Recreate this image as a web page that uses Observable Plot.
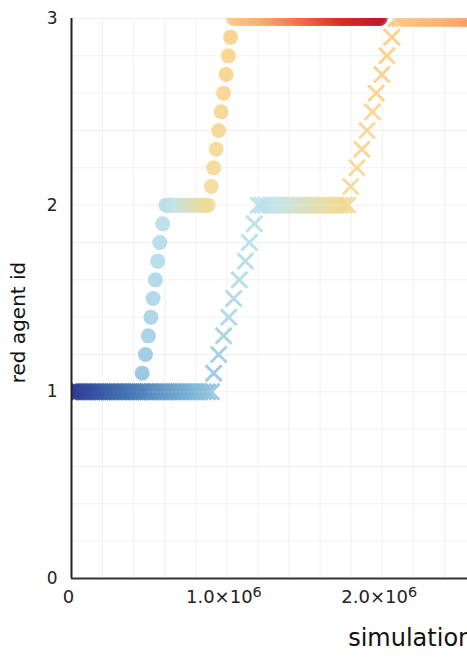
<!DOCTYPE html>
<html>
<head>
<meta charset="utf-8">
<script src="https://cdn.jsdelivr.net/npm/d3@7"></script>
<script src="https://cdn.jsdelivr.net/npm/@observablehq/plot@0.6"></script>
<style>
  html, body { margin: 0; padding: 0; background: #fff; overflow: hidden; }
  #chart { width: 467px; height: 657px; overflow: hidden; }
  #chart svg { max-width: none !important; width: 830px !important; height: 657px !important; display: block; }
</style>
</head>
<body>
<div id="chart"></div>
<script>
// ---- data (simulation step, red agent id) ----
// circles series
const circleAt1 = [0,16000,32000,48000,64000,80000,96000,112000,128000,144000,160000,176000,192000,208000,224000,240000,256000,272000,288000,304000,320000,336000,352000,368000,384000,400000,416000,432000];
const circleRise12 = [455000,476000,495000,511000,525000,540000,555000,568000,587000];
const circleAt2 = [608000,624000,640000,656000,672000,688000,704000,720000,736000,752000,768000,784000,800000,816000,832000,848000,864000,880000];
const circleRise23 = [900000,915000,931000,947000,963000,979000,995000,1010000,1024000];
const circleAt3 = [1042000,1058000,1074000,1090000,1106000,1122000,1138000,1154000,1170000,1186000,1202000,1218000,1234000,1250000,1266000,1282000,1298000,1314000,1330000,1346000,1362000,1378000,1394000,1410000,1426000,1442000,1458000,1474000,1490000,1506000,1522000,1538000,1554000,1570000,1586000,1602000,1618000,1634000,1650000,1666000,1682000,1698000,1714000,1730000,1746000,1762000,1778000,1794000,1810000,1826000,1842000,1858000,1874000,1890000,1906000,1922000,1938000,1954000,1970000,1986000];
// crosses series
const crossAt1 = [0,25000,50000,75000,100000,125000,150000,175000,200000,225000,250000,275000,300000,325000,350000,375000,400000,425000,450000,475000,500000,525000,550000,575000,600000,625000,650000,675000,700000,725000,750000,775000,800000,825000,850000,875000,900000];
const crossRise12 = [915000,947000,979000,1012000,1044000,1080000,1119000,1145000,1177000];
const crossAt2 = [1203000,1228000,1253000,1278000,1303000,1328000,1353000,1378000,1403000,1428000,1453000,1478000,1503000,1528000,1553000,1578000,1603000,1628000,1653000,1678000,1703000,1728000,1753000,1778000];
const crossRise23 = [1797000,1837000,1869000,1902000,1937000,1961000,1998000,2030000,2062000];
const crossAt3 = [2090000,2115000,2140000,2165000,2190000,2215000,2240000,2265000,2290000,2315000,2340000,2365000,2390000,2415000,2440000,2465000,2490000,2515000,2540000,2565000,2590000,2615000,2640000,2665000,2690000];
// ids reached along the rises
const riseIds12 = [1.1,1.2,1.3,1.4,1.5,1.6,1.7,1.8,1.9];
const riseIds23 = [2.1,2.2,2.3,2.4,2.5,2.6,2.7,2.8,2.9];
// total run length of each series (colour = progress through the run)
const circleRunLength = 2.0e6;
const crossRunLength = 3.9e6;
// axis ticks
const xTicks = [0, 1e6, 2e6, 3e6, 4e6];
const yTicks = [0, 1, 2, 3];

function buildRows(at1, rise12, at2, rise23, at3, runLength) {
  return [
    ...at1.map(x => ({x, y: 1})),
    ...rise12.map((x, i) => ({x, y: riseIds12[i]})),
    ...at2.map(x => ({x, y: 2})),
    ...rise23.map((x, i) => ({x, y: riseIds23[i]})),
    ...at3.map(x => ({x, y: 3}))
  ].map(d => ({...d, t: d.x / runLength}));
}
const circles = buildRows(circleAt1, circleRise12, circleAt2, circleRise23, circleAt3, circleRunLength);
const crosses = buildRows(crossAt1, crossRise12, crossAt2, crossRise23, crossAt3, crossRunLength);

const fmtX = d => d === 0 ? "0" : `${(d / 1e6).toFixed(1)}×10⁶`;

const chart = Plot.plot({
  width: 830,
  height: 657,
  marginLeft: 71,
  marginRight: 21,
  marginTop: 18,
  marginBottom: 79,
  style: {fontFamily: "DejaVu Sans", fontSize: "17px", background: "#fff", color: "#222", maxWidth: "none"},
  x: {domain: [0, 4.75e6], axis: null},
  y: {domain: [0, 3], axis: null},
  color: {
    type: "linear",
    domain: [0, 0.1, 0.2, 0.26, 0.34, 0.44, 0.5, 0.54, 0.62, 0.75, 0.88, 1],
    range: ["#2c3a93", "#4575b4", "#78b0d4", "#a4d3e7", "#c4e4ea", "#f0da96", "#f9d084", "#fdc77c", "#fcae70", "#f26d44", "#d73027", "#bb1a2a"],
    clamp: true
  },
  marks: [
    Plot.gridX({ticks: d3.range(0, 4.75e6 + 1, 2e5), stroke: "#000", strokeOpacity: 0.06, strokeWidth: 1}),
    Plot.gridY({ticks: d3.range(0, 3.001, 0.2), stroke: "#000", strokeOpacity: 0.06, strokeWidth: 1}),
    Plot.dot(circles, {x: "x", y: "y", r: 7.5, fill: "t", fillOpacity: 0.85, stroke: "none", clip: true}),
    Plot.dot(crosses, {x: "x", y: "y", r: 7.3, symbol: "times", stroke: "t", strokeWidth: 3, strokeOpacity: 0.85, clip: true}),
    Plot.ruleX([0], {stroke: "#222", strokeWidth: 2}),
    Plot.ruleY([0], {stroke: "#333", strokeWidth: 2}),
    Plot.axisY({ticks: yTicks, tickSize: 0, tickPadding: 14, fontSize: 17, tickFormat: d3.format("d"), label: null}),
    Plot.axisX({ticks: xTicks, tickSize: 0, tickPadding: 12, fontSize: 18, dx: -3, tickFormat: fmtX, label: null}),
    Plot.text(["red agent id"], {frameAnchor: "left", rotate: -90, dx: -53, dy: 24, textAnchor: "middle", fontSize: 20, fill: "#111"}),
    Plot.text(["simulation step"], {frameAnchor: "bottom", dy: 67, fontSize: 24, fill: "#111"})
  ]
});
// render the ×10⁶ exponent as a true superscript
chart.querySelectorAll("text").forEach(el => {
  const s = el.textContent;
  if (s.includes("⁶")) {
    const base = s.replace("⁶", "");
    el.textContent = "";
    el.appendChild(document.createTextNode(base));
    const sup = document.createElementNS("http://www.w3.org/2000/svg", "tspan");
    sup.setAttribute("dy", "-0.42em");
    sup.setAttribute("font-size", "0.8em");
    sup.textContent = "6";
    el.appendChild(sup);
  }
});
document.getElementById("chart").appendChild(chart);
</script>
</body>
</html>
